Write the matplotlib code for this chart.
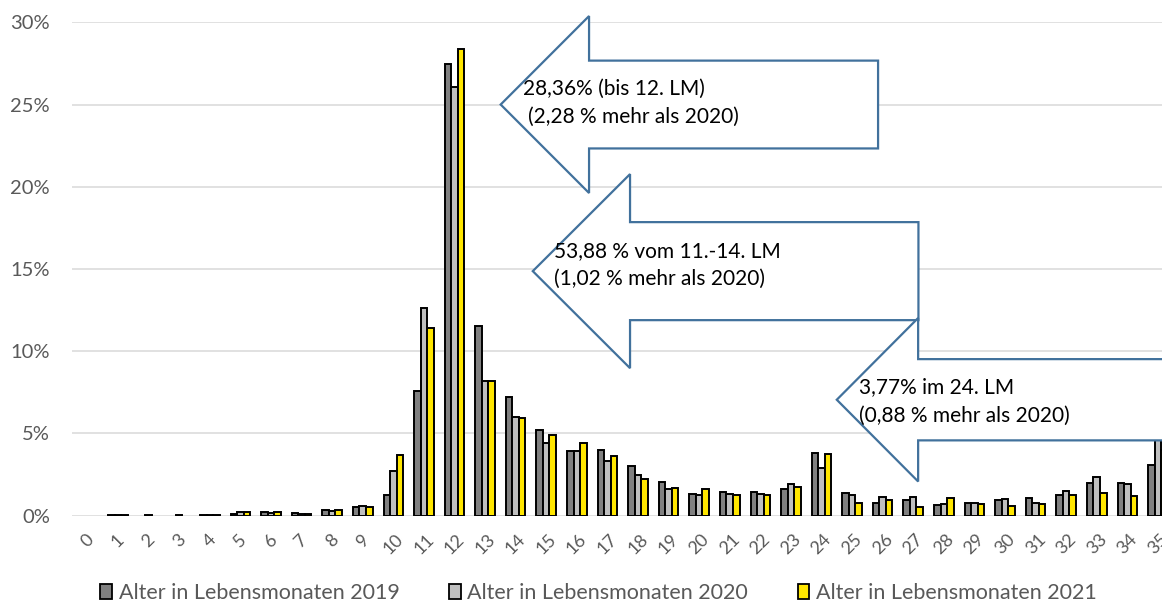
import matplotlib
matplotlib.use("Agg")
import matplotlib.pyplot as plt
import numpy as np
from matplotlib.patches import Polygon, Patch
from matplotlib.ticker import FuncFormatter

plt.rcParams['font.family'] = ['Lato', 'DejaVu Sans']

# Age in months of life (Lebensmonate) and share of children per year, in %
months = list(range(36))
share_2019 = [0.00, 0.03, 0.00, 0.00, 0.06, 0.12, 0.20, 0.16, 0.36, 0.55,
              1.27, 7.57, 27.45, 11.56, 7.21, 5.20, 3.96, 4.00, 3.01, 2.02,
              1.31, 1.45, 1.45, 1.65, 3.80, 1.36, 0.80, 0.95, 0.65, 0.77,
              0.97, 1.07, 1.23, 2.01, 2.01, 3.06]
share_2020 = [0.00, 0.03, 0.02, 0.02, 0.06, 0.20, 0.15, 0.12, 0.28, 0.59,
              2.72, 12.60, 26.08, 8.20, 5.98, 4.39, 3.94, 3.33, 2.48, 1.63,
              1.27, 1.31, 1.33, 1.93, 2.89, 1.26, 1.14, 1.16, 0.71, 0.77,
              1.03, 0.79, 1.53, 2.33, 1.93, 4.65]
share_2021 = [0.00, 0.02, 0.00, 0.00, 0.05, 0.24, 0.24, 0.08, 0.36, 0.53,
              3.68, 11.40, 28.36, 8.18, 5.94, 4.91, 4.45, 3.66, 2.26, 1.71,
              1.63, 1.23, 1.25, 1.75, 3.77, 0.77, 0.95, 0.55, 1.10, 0.73,
              0.59, 0.73, 1.25, 1.39, 1.21, 4.00]
series_labels = ["Alter in Lebensmonaten 2019",
                 "Alter in Lebensmonaten 2020",
                 "Alter in Lebensmonaten 2021"]
y_ticks = [0, 5, 10, 15, 20, 25, 30]

callout_lines = [
    ("28,36% (bis 12. LM)", "(2,28 % mehr als 2020)"),
    ("53,88 % vom 11.-14. LM", "(1,02 % mehr als 2020)"),
    ("3,77% im 24. LM", "(0,88 % mehr als 2020)"),
]

# Callout arrow geometry in data units:
# tip x, head back x, tail x, centre y, shaft half-height, head half-height
arrow_shapes = [
    (13.51, 16.40, 25.85, 25.00, 2.67, 5.38),
    (14.56, 17.74, 27.17, 14.87, 2.98, 5.90),
    (24.50, 27.16, 36.50, 7.05, 2.47, 4.97),
]
# text anchors (x of first line, x of second line, baseline y of both lines)
text_anchors = [
    (14.23, 14.40, 25.60, 23.86),
    (15.25, 15.25, 15.74, 14.02),
    (25.23, 25.23, 7.48, 5.71),
]

colors = ['#808080', '#BFBFBF', '#FFE600']
text_grey = '#595959'

W, H = 1162, 605
fig = plt.figure(figsize=(W / 100, H / 100), dpi=100)
ax = fig.add_axes([72.2 / W, (H - 515.7) / H, 1101 / W, 493.4 / H])

x = np.arange(len(months))
width = 0.213
for i, (vals, col, lab) in enumerate(zip([share_2019, share_2020, share_2021],
                                         colors, series_labels)):
    lws = [1.4 if v > 0 else 0 for v in vals]
    ax.bar(x + (i - 1) * width, vals, width=width, color=col,
           edgecolor='black', linewidth=lws, label=lab, zorder=2)

ax.set_xlim(-0.5, len(months) - 0.5)
ax.set_ylim(0, 30)
ax.set_yticks(y_ticks)
ax.yaxis.set_major_formatter(FuncFormatter(lambda v, p: f"{v:.0f}%"))
ax.set_xticks(x)
ax.set_xticklabels([str(m) for m in months], rotation=45, ha='center', va='top')
ax.tick_params(axis='both', length=0, colors=text_grey, labelsize=14.5)
ax.tick_params(axis='y', pad=16)
ax.tick_params(axis='x', pad=11, labelsize=13)
ax.yaxis.grid(True, color='#D9D9D9', linewidth=1.1, zorder=0)
ax.set_axisbelow(True)
for s in ax.spines.values():
    s.set_visible(False)

# callout arrows
for (tip, head, tail, my, sh, hh), (l1x, l2x, b1, b2), (t1, t2) in zip(
        arrow_shapes, text_anchors, callout_lines):
    pts = [(tip, my), (head, my + hh), (head, my + sh), (tail, my + sh),
           (tail, my - sh), (head, my - sh), (head, my - hh)]
    ax.add_patch(Polygon(pts, closed=True, facecolor='white',
                         edgecolor='#41719C', linewidth=1.6, zorder=4,
                         joinstyle='miter', clip_on=False))
    ax.text(l1x, b1, t1, fontsize=15, color='black', va='baseline',
            ha='left', zorder=5)
    ax.text(l2x, b2, t2, fontsize=15, color='black', va='baseline',
            ha='left', zorder=5)

handles = [Patch(facecolor=c, edgecolor='black', linewidth=1.3) for c in colors]
fig.legend(handles, series_labels, loc='center', ncol=3,
           bbox_to_anchor=(0.515, 0.02), frameon=False, fontsize=15.5,
           handlelength=0.55, handleheight=0.75, handletextpad=0.3,
           columnspacing=2.3, labelcolor=text_grey, borderpad=0.1)

fig.savefig('out.png', dpi=100)
